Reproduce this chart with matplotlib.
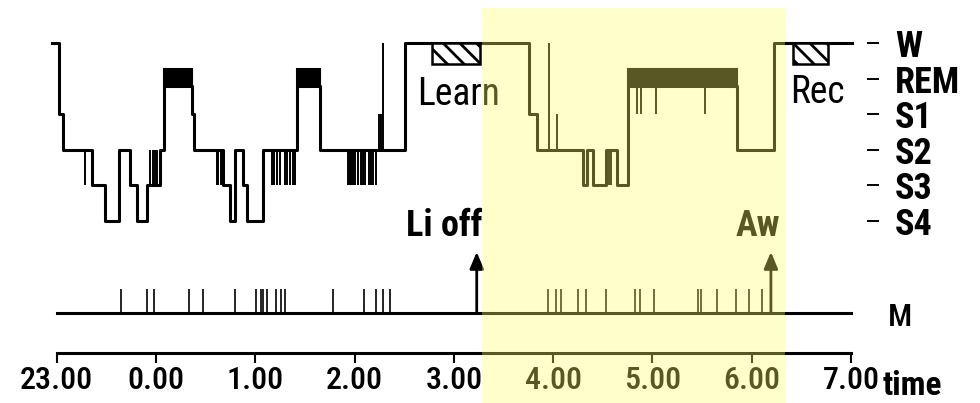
import numpy as np
import matplotlib
matplotlib.use('Agg')
import matplotlib.pyplot as plt
from matplotlib.patches import Rectangle

plt.rcParams['font.family'] = ['Roboto Condensed', 'DejaVu Sans']
plt.rcParams['hatch.linewidth'] = 2.0

# time in hours after 23.00
stage_names = ['W', 'REM', 'S1', 'S2', 'S3', 'S4']
stage_y = {'W': 0, 'REM': 1.2, 'S1': 2, 'S2': 3, 'S3': 4, 'S4': 5}

hyp_t = [-0.047, 0.026, 0.066, 0.352, 0.486, 0.630, 0.738, 0.806, 0.912, 1.040,
         1.081, 1.360, 1.383, 1.672, 1.745, 1.796, 1.876, 1.916, 2.078, 2.417,
         2.652, 3.508, 4.756, 4.837, 5.303, 5.343, 5.401, 5.532, 5.643, 5.754,
         6.851, 7.223, 8.009]
hyp_stage = ['W', 'S1', 'S2', 'S3', 'S4', 'S2', 'S3', 'S4', 'S3', 'S2',
             'REM', 'S1', 'S2', 'S3', 'S4', 'S2', 'S3', 'S4', 'S2', 'REM',
             'S2', 'W', 'S1', 'S2', 'S3', 'S2', 'S3', 'S2', 'S3', 'REM',
             'S2', 'W', 'W']

# short stage changes (thin lines)
spike_t = [0.285, 0.940, 0.967, 0.990, 1.013, 1.611, 1.627, 1.652,
           2.165, 2.188, 2.216, 2.249, 2.299, 2.322, 2.349, 2.376, 2.401,
           2.934, 2.949, 2.964, 2.984, 3.004, 3.034, 3.064, 3.084, 3.105,
           3.145, 3.165, 3.185, 3.216, 3.243, 3.263, 3.286,
           4.958, 5.039, 5.562, 5.586, 5.844, 5.884, 6.035, 6.529]
spike_from = ['S2'] * 33 + ['S2', 'S2', 'S2', 'S2', 'REM', 'REM', 'REM', 'REM']
spike_to = ['S3'] * 30 + ['S1', 'S1', 'W'] + ['W', 'S1', 'S3', 'S3', 'S1', 'S1', 'S1', 'S1']

# body movements
move_t = [0.645, 0.906, 0.980, 1.332, 1.476, 1.799, 2.007, 2.054, 2.075, 2.115,
          2.208, 2.262, 2.299, 2.779, 3.098, 3.216, 3.289, 3.357,
          4.945, 5.028, 5.076, 5.247, 5.330, 5.529, 5.827, 5.874, 6.015,
          6.461, 6.485, 6.652, 6.841, 6.969, 7.100]
lights_off = 4.23
awake = 7.193

tick_labels = ['23.00', '0.00', '1.00', '2.00', '3.00', '4.00', '5.00', '6.00', '7.00']

learn_box = (3.779, 4.263)
rec_box = (7.415, 7.767)
highlight = (4.283, 7.334)

M_Y = 7.584

fig = plt.figure(figsize=(9.8, 4.03), dpi=100)
ax = fig.add_axes([0.0579, 0.1241, 0.8105, 0.7692])
ax.set_xlim(0, 8)
ax.set_ylim(8.708, 0)

# hypnogram
ax.step(hyp_t, [stage_y[s] for s in hyp_stage], where='post', color='k', lw=2.2,
        clip_on=False, zorder=3)
ax.vlines(spike_t, [stage_y[s] for s in spike_from], [stage_y[s] for s in spike_to],
          color='k', lw=1.4, zorder=3)
for i, s in enumerate(hyp_stage[:-1]):
    if s == 'REM':
        ax.add_patch(Rectangle((hyp_t[i], 0.72), hyp_t[i + 1] - hyp_t[i], 0.48,
                               facecolor='k', edgecolor='k', lw=1.5, zorder=3))

for x0, x1 in [learn_box, rec_box]:
    ax.add_patch(Rectangle((x0, 0), x1 - x0, 0.6, facecolor='white', edgecolor='k',
                           hatch='\\\\', lw=1.8, zorder=4, clip_on=False))
ax.text(3.63, 1.74, 'Learn', fontsize=27, va='baseline', ha='left')
ax.text(7.39, 1.69, 'Rec', fontsize=27, va='baseline', ha='left', clip_on=False)

# movements
ax.plot([0, 8], [M_Y, M_Y], color='k', lw=2.2, clip_on=False)
ax.vlines(move_t, M_Y, M_Y - 0.68, color='k', lw=1.2)
for t in [lights_off, awake]:
    ax.annotate('', xy=(t, 5.87), xytext=(t, M_Y),
                arrowprops=dict(arrowstyle='-|>,head_length=1.0,head_width=0.42',
                                color='k', lw=2, shrinkA=0, shrinkB=0))
ax.text(4.285, 5.42, 'Li off', fontsize=26, fontweight='bold', ha='right', va='baseline')
ax.text(7.284, 5.42, 'Aw', fontsize=26, fontweight='bold', ha='right', va='baseline')
ax.text(8.37, 7.95, 'M', fontsize=23, fontweight='medium', ha='left', va='baseline',
        clip_on=False)
ax.text(8.32, 9.89, 'time', fontsize=24, fontweight='bold', ha='left', va='baseline',
        clip_on=False)

# axes
for side in ['left', 'top']:
    ax.spines[side].set_visible(False)
ax.spines['bottom'].set_linewidth(2.2)
ax.spines['right'].set_position(('data', 8.16))
ax.spines['right'].set_visible(False)
ax.set_xticks(range(9))
ax.set_xticklabels(tick_labels, fontsize=23, fontweight='medium')
ax.tick_params(axis='x', direction='out', length=7.2, width=1.5, pad=2)
ax.yaxis.tick_right()
ax.set_yticks(range(6))
ax.set_yticklabels(stage_names, fontsize=26, fontweight='bold')
ax.tick_params(axis='y', direction='out', length=8.6, width=1.4, pad=11.5)

# highlighted period
ax.add_patch(Rectangle((highlight[0], -0.98), highlight[1] - highlight[0], 11.2,
                       facecolor=(1, 1, 0.42), alpha=0.35, lw=0, zorder=10, clip_on=False))

plt.savefig('out.png', dpi=100)
